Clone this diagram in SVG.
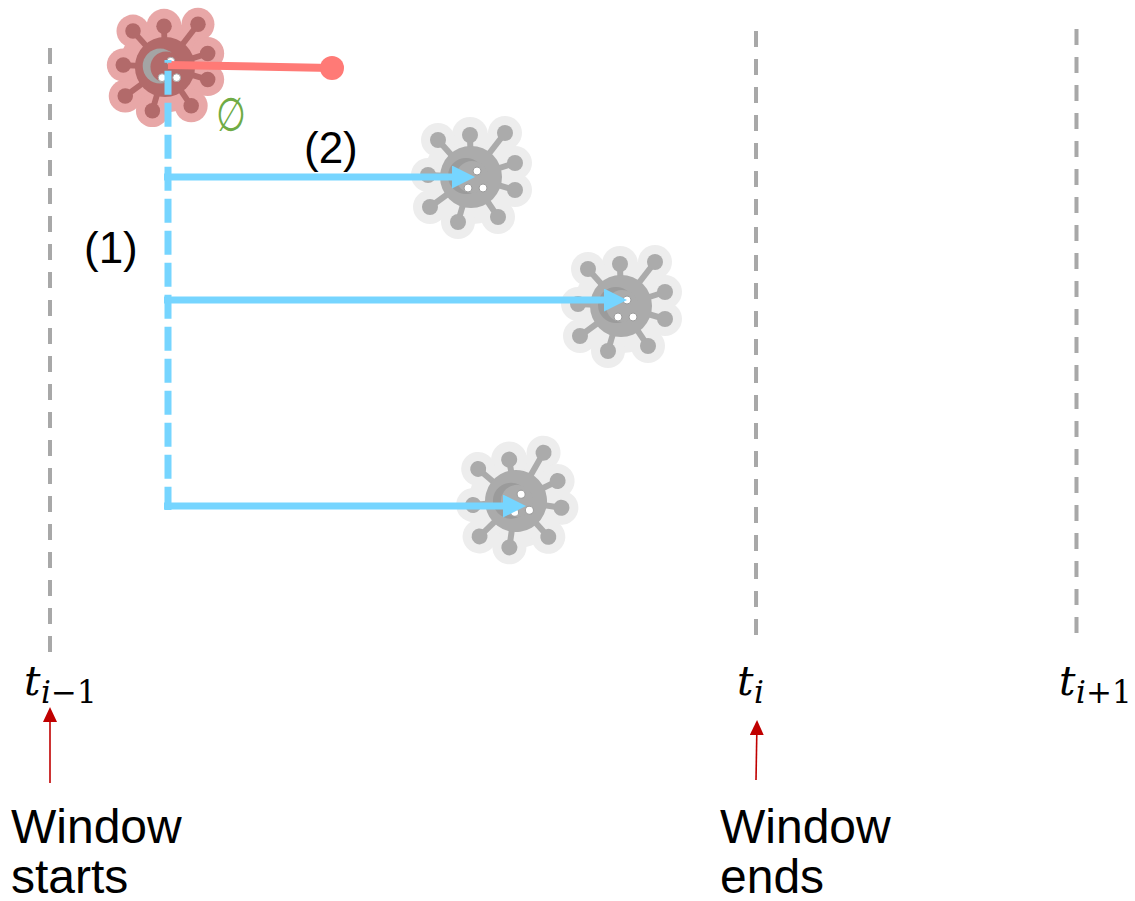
<svg xmlns="http://www.w3.org/2000/svg" xmlns:xlink="http://www.w3.org/1999/xlink" width="1135" height="901" viewBox="0 0 1135 901">
  <style>
    .grid { stroke: #A8A8A8; stroke-width: 4; stroke-dasharray: 16 12; fill: none; }
    .flow { stroke: #76D5FF; stroke-width: 7; fill: none; }
    .flow-dash { stroke-dasharray: 24 8; stroke-dashoffset: 21.3; }
    .kill { stroke: #FF7A76; stroke-width: 8; fill: none; }
    .mark { stroke: #C00000; stroke-width: 1.6; fill: none; }
    .lbl { font-family: "Liberation Sans", Arial, sans-serif; fill: #000; }
    .big { font-size: 48px; }
    .num { font-size: 44px; }
    .mt { font-family: "DejaVu Serif", "Liberation Serif", serif; font-style: italic; font-size: 41px; fill: #000; }
    .ms { font-family: "DejaVu Serif", "Liberation Serif", serif; font-size: 31px; fill: #000; }
    .empty { font-family: "Liberation Sans", "DejaVu Sans", sans-serif; font-size: 47px; fill: #6FAB45; }
    .gray { --halo: #EDEDED; --body: #ABABAB; --cres: #9B9B9B; }
    .red { --halo: #E8A7A7; --body: #B26A6A; --cres: #A4A4A4; }
  </style>
  <defs>
    <!-- virus icon, centred on its body -->
    <g id="virus">
      <g fill="var(--halo)">
        <circle r="47"/>
        <circle cx="-1" cy="-42" r="18"/>
        <circle cx="34" cy="-44" r="17"/>
        <circle cx="44" cy="-14" r="17"/>
        <circle cx="44" cy="13" r="17"/>
        <circle cx="27" cy="40" r="17"/>
        <circle cx="-13" cy="45" r="17"/>
        <circle cx="-41" cy="30" r="17"/>
        <circle cx="-43" cy="-2" r="17"/>
        <circle cx="-33" cy="-37" r="17"/>
      </g>
      <g stroke="var(--body)" stroke-width="6">
        <line x1="0" y1="0" x2="-1" y2="-42"/>
        <line x1="0" y1="0" x2="34" y2="-44"/>
        <line x1="0" y1="0" x2="44" y2="-14"/>
        <line x1="0" y1="0" x2="44" y2="13"/>
        <line x1="0" y1="0" x2="27" y2="40"/>
        <line x1="0" y1="0" x2="-13" y2="45"/>
        <line x1="0" y1="0" x2="-41" y2="30"/>
        <line x1="0" y1="0" x2="-43" y2="-2"/>
        <line x1="0" y1="0" x2="-33" y2="-37"/>
      </g>
      <g fill="var(--body)">
        <circle cx="-1" cy="-42" r="8"/>
        <circle cx="34" cy="-44" r="8"/>
        <circle cx="44" cy="-14" r="8"/>
        <circle cx="44" cy="13" r="8"/>
        <circle cx="27" cy="40" r="8"/>
        <circle cx="-13" cy="45" r="8"/>
        <circle cx="-41" cy="30" r="8"/>
        <circle cx="-43" cy="-2" r="8"/>
        <circle cx="-33" cy="-37" r="8"/>
        <circle r="31"/>
      </g>
      <circle cx="-5" cy="-1" r="18" fill="var(--cres)"/>
      <circle cx="1" cy="0" r="16" fill="var(--body)"/>
      <g fill="#FFFFFF" stroke="var(--cres)" stroke-width="1">
        <circle cx="6" cy="-6" r="4"/>
        <circle cx="-3" cy="11" r="4"/>
        <circle cx="12" cy="11" r="4"/>
      </g>
    </g>
    <clipPath id="cut-top">
      <rect x="0" y="0" width="400" height="127"/>
    </clipPath>
    <marker id="head-blue" markerUnits="userSpaceOnUse" markerWidth="24" markerHeight="24" refX="13" refY="11.5" orient="auto">
      <path d="M0,0 L23,11.5 L0,23 Z" fill="#76D5FF"/>
    </marker>
    <marker id="head-red" markerUnits="userSpaceOnUse" markerWidth="16" markerHeight="16" refX="13" refY="7" orient="auto">
      <path d="M0,0 L15,7 L0,14 Z" fill="#C00000"/>
    </marker>
  </defs>

  <rect width="1135" height="901" fill="#FFFFFF"/>

  <!-- time boundaries -->
  <g id="boundaries">
    <line class="grid" x1="50" y1="48" x2="50" y2="652"/>
    <line class="grid" x1="756" y1="31" x2="756" y2="635"/>
    <line class="grid" x1="1076.5" y1="29" x2="1076.5" y2="633"/>
  </g>

  <!-- infected parent -->
  <g id="parent" class="red" clip-path="url(#cut-top)">
    <use xlink:href="#virus" transform="translate(165,67) scale(0.97)"/>
  </g>

  <!-- offspring -->
  <g id="child-1" class="gray"><use xlink:href="#virus" transform="translate(471,177)"/></g>
  <g id="child-2" class="gray"><use xlink:href="#virus" transform="translate(621,306)"/></g>
  <g id="child-3" class="gray"><use xlink:href="#virus" transform="translate(516,501) rotate(-8)"/></g>

  <!-- connectors -->
  <g id="connectors">
    <line class="kill" x1="168" y1="65" x2="331" y2="68"/>
    <circle cx="332" cy="68" r="12" fill="#FF7A76"/>
    <line class="flow flow-dash" x1="168" y1="60" x2="168" y2="510"/>
    <line class="flow" x1="164" y1="177" x2="465" y2="177" marker-end="url(#head-blue)"/>
    <line class="flow" x1="164" y1="300" x2="617" y2="300" marker-end="url(#head-blue)"/>
    <line class="flow" x1="164" y1="506" x2="516" y2="506" marker-end="url(#head-blue)"/>
    <line class="mark" x1="50" y1="783" x2="50" y2="709" marker-end="url(#head-red)"/>
    <line class="mark" x1="756" y1="780" x2="757" y2="722" marker-end="url(#head-red)"/>
  </g>

  <!-- labels -->
  <g id="labels">
    <text class="empty" x="0" y="0" transform="translate(216,131) scale(0.72,1)">∅</text>
    <text class="lbl num" x="84" y="263">(1)</text>
    <text class="lbl num" x="304" y="163">(2)</text>

    <text class="mt" x="24" y="695">t</text>
    <text class="ms" x="41" y="703"><tspan font-style="italic">i</tspan>−1</text>
    <text class="mt" x="737" y="695">t</text>
    <text class="ms" x="754" y="703" font-style="italic">i</text>
    <text class="mt" x="1059" y="695">t</text>
    <text class="ms" x="1076" y="703"><tspan font-style="italic">i</tspan>+1</text>

    <text class="lbl big" x="11" y="843">Window</text>
    <text class="lbl big" x="11" y="893">starts</text>
    <text class="lbl big" x="720" y="843">Window</text>
    <text class="lbl big" x="720" y="893">ends</text>
  </g>
</svg>
